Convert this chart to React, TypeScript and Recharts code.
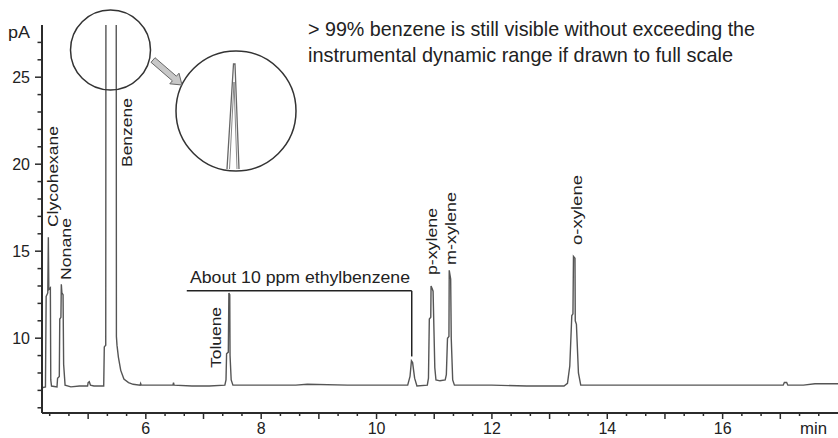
import React from 'react';
import { LineChart, Line, XAxis, YAxis, ReferenceLine } from 'recharts';

// Retention time (min) and detector signal (pA)
const retentionTimes = [
  4.2, 4.26, 4.272, 4.3, 4.31, 4.318, 4.345, 4.352, 4.365,
  4.46, 4.47, 4.5, 4.508, 4.528, 4.535, 4.545, 4.565, 4.575, 4.6,
  4.7, 4.85, 4.99, 5.0, 5.02, 5.04, 5.1,
  5.27, 5.28, 5.305, 5.31, 5.485, 5.49, 5.5, 5.525, 5.565, 5.62, 5.7, 5.78, 5.9, 5.91, 5.92,
  6.3, 6.47, 6.48, 6.49, 6.8, 7.1,
  7.37, 7.39, 7.4, 7.43, 7.44, 7.455, 7.46, 7.48, 7.51,
  7.8, 8.05, 8.6, 8.8, 9.5,
  10.54, 10.58, 10.605, 10.625, 10.66, 10.7,
  10.88, 10.9, 10.915, 10.94, 10.945, 10.97, 10.98, 10.995, 11.01, 11.03, 11.1,
  11.19, 11.21, 11.23, 11.255, 11.26, 11.285, 11.295, 11.32, 11.35,
  12.0, 12.6, 13.25, 13.31, 13.35, 13.385, 13.405, 13.414, 13.44, 13.445, 13.465, 13.5, 13.54, 13.6,
  14.5, 15.5, 17.05, 17.07, 17.11, 17.13, 17.4, 17.6, 18.0,
];
const signalPA = [
  7.15, 7.2, 12.4, 12.6, 15.8, 12.8, 12.9, 7.6, 7.25,
  7.2, 7.7, 7.8, 11.1, 11.2, 13.1, 12.6, 12.5, 8.5, 7.3,
  7.2, 7.25, 7.25, 7.45, 7.5, 7.3, 7.25,
  7.25, 9.5, 9.6, 40, 40, 10.1, 9.6, 8.9, 8.15, 7.65, 7.45, 7.35, 7.3, 7.4, 7.3,
  7.3, 7.3, 7.45, 7.3, 7.25, 7.25,
  7.3, 7.6, 9.1, 9.2, 12.6, 12.5, 9.0, 7.6, 7.3,
  7.3, 7.3, 7.3, 7.35, 7.3,
  7.3, 7.8, 8.7, 8.6, 7.7, 7.25,
  7.3, 7.7, 11.1, 11.2, 13.0, 12.8, 12.7, 10.5, 8.3, 7.6, 7.55,
  7.6, 7.9, 10.0, 10.1, 13.9, 13.4, 10.0, 7.6, 7.3,
  7.3, 7.25, 7.25, 7.4, 8.4, 11.3, 11.4, 14.7, 14.6, 11.0, 10.8, 8.0, 7.3, 7.3,
  7.3, 7.3, 7.3, 7.45, 7.45, 7.3, 7.3, 7.38, 7.38,
];

const xLabelTicks = [6, 8, 10, 12, 14, 16];
const yLabelTicks = [10, 15, 20, 25];
const xTicks = Array.from({ length: 41 }, (_, i) => 13 / 3 + i / 3);
const yTicks = Array.from({ length: 22 }, (_, i) => 6 + i);

const peakNames = ['Clycohexane', 'Nonane', 'Benzene', 'Toluene', 'p-xylene', 'm-xylene', 'o-xylene'];

const data = retentionTimes.map((t, i) => ({ t, pA: signalPA[i] }));

const FONT = "'Liberation Sans', Arial, sans-serif";
const FONT_N = "'Liberation Sans Narrow', 'Liberation Sans', Arial, sans-serif";
const AXIS = '#2b2b2b';

// label layout: [x center, bottom y, length]
const peakLabelLayout: [number, number, number][] = [
  [52.5, 227, 101],
  [65.5, 280, 62],
  [126.5, 167, 69],
  [215, 368, 61],
  [431, 275, 67],
  [450, 265, 73],
  [576, 245, 70],
];

const XTick = (props: any) => {
  const { x, y, payload } = props;
  const v = payload.value as number;
  const isInt = Math.abs(v - Math.round(v)) < 1e-6;
  const showLabel = isInt && xLabelTicks.includes(Math.round(v));
  return (
    <g>
      <line x1={x} x2={x} y1={y} y2={y + (isInt ? 6 : 3)} stroke={AXIS} strokeWidth={1.5} />
      {showLabel && (
        <text x={x} y={y + 21} textAnchor="middle" fontSize={16} fill="#222" fontFamily={FONT}>
          {Math.round(v)}
        </text>
      )}
    </g>
  );
};

const YTick = (props: any) => {
  const { x, y, payload } = props;
  const v = payload.value as number;
  const major = yLabelTicks.includes(v);
  return (
    <g>
      <line x1={x - (major ? 7 : 4.5)} x2={x} y1={y} y2={y} stroke={AXIS} strokeWidth={1.5} />
      {major && (
        <text x={x - 12} y={y + 6} textAnchor="end" fontSize={16} fill="#222" fontFamily={FONT}>
          {v}
        </text>
      )}
    </g>
  );
};

export default function App() {
  return (
    <div style={{ position: 'absolute', left: 0, top: 0, width: 838, height: 438, background: '#fff' }}>
      <LineChart width={838} height={438} data={data} margin={{ top: 25, right: 0, left: 0, bottom: 0 }}>
        <XAxis
          dataKey="t"
          type="number"
          domain={[4.2, 18]}
          ticks={xTicks}
          interval={0}
          allowDataOverflow
          height={25}
          tickSize={0}
          tickMargin={0}
          tickLine={false}
          axisLine={{ stroke: AXIS, strokeWidth: 2 }}
          tick={<XTick />}
        />
        <YAxis
          type="number"
          domain={[5.7, 28]}
          ticks={yTicks}
          interval={0}
          allowDataOverflow
          width={42}
          tickSize={0}
          tickMargin={0}
          tickLine={false}
          axisLine={{ stroke: AXIS, strokeWidth: 2 }}
          tick={<YTick />}
        />
        <Line
          type="linear"
          dataKey="pA"
          stroke="#555"
          strokeWidth={1.4}
          dot={false}
          isAnimationActive={false}
        />
        <ReferenceLine
          segment={[{ x: 6.71, y: 12.72 }, { x: 10.61, y: 12.72 }]}
          stroke="#222"
          strokeWidth={1.5}
          ifOverflow="visible"
        />
        <ReferenceLine
          segment={[{ x: 10.61, y: 12.72 }, { x: 10.61, y: 8.95 }]}
          stroke="#222"
          strokeWidth={1.5}
          ifOverflow="visible"
        />
      </LineChart>
      <svg
        width={838}
        height={438}
        style={{ position: 'absolute', left: 0, top: 0, pointerEvents: 'none' }}
      >
        <text x={8} y={38} fontSize={16} fill="#222" fontFamily={FONT} textLength={22} lengthAdjust="spacingAndGlyphs">pA</text>
        <text x={800} y={434} fontSize={16} fill="#222" fontFamily={FONT} textLength={27} lengthAdjust="spacingAndGlyphs">min</text>
        <text x={308} y={36} fontSize={21} fill="#222" fontFamily={FONT_N} textLength={447} lengthAdjust="spacingAndGlyphs">
          {'> 99% benzene is still visible without exceeding the'}
        </text>
        <text x={308} y={62} fontSize={21} fill="#222" fontFamily={FONT_N} textLength={425} lengthAdjust="spacingAndGlyphs">
          instrumental dynamic range if drawn to full scale
        </text>
        <text x={190} y={283} fontSize={17} fill="#222" fontFamily={FONT_N} textLength={220} lengthAdjust="spacingAndGlyphs">
          About 10 ppm ethylbenzene
        </text>
        {peakNames.map((name, i) => {
          const [x, y, len] = peakLabelLayout[i];
          return (
            <text
              key={name}
              x={0}
              y={0}
              transform={`translate(${x},${y}) rotate(-90)`}
              dominantBaseline="central"
              fontSize={15.5}
              fill="#222"
              fontFamily={FONT_N}
              textLength={len}
              lengthAdjust="spacingAndGlyphs"
            >
              {name}
            </text>
          );
        })}
        <circle cx={110.5} cy={50} r={40} fill="none" stroke="#333" strokeWidth={1.5} />
        <circle cx={236} cy={111} r={60} fill="none" stroke="#333" strokeWidth={1.5} />
        <polyline points="227,169 233.5,64 235,64 239,169" fill="none" stroke="#666" strokeWidth={1.3} />
        <polyline points="229.5,169 234,82 237,169" fill="none" stroke="#888" strokeWidth={1} />
        <polygon
          points="151,62.3 172.4,80.8 169.8,83.8 182,85 179,73.2 176.4,76.2 155,57.7"
          fill="#c8c8c8"
          stroke="#666"
          strokeWidth={1}
        />
      </svg>
    </div>
  );
}
